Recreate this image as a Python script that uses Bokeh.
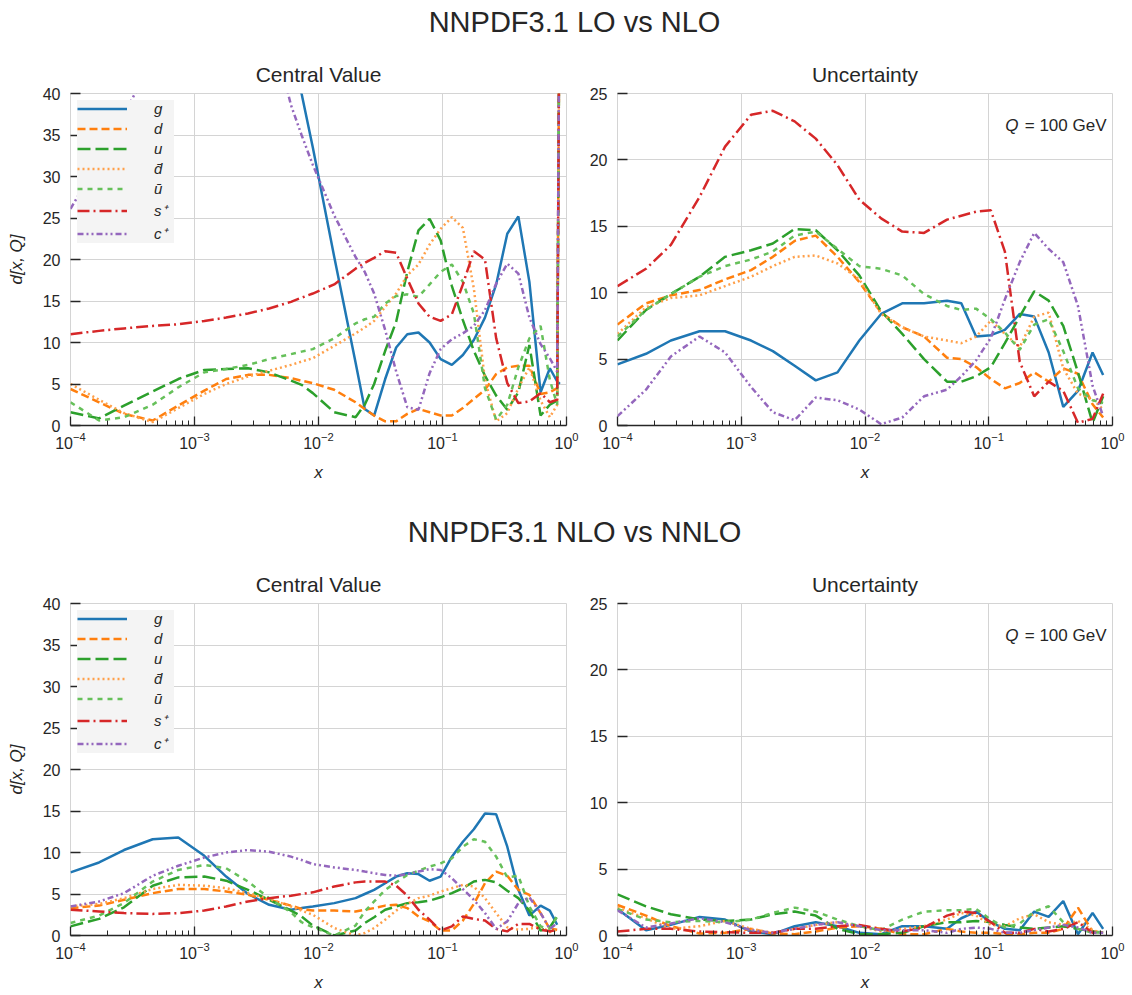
from bokeh.plotting import figure
from bokeh.layouts import column, row
from bokeh.models import Range1d, Legend, LegendItem, Label, FixedTicker
from bokeh.embed import file_html
from bokeh.resources import INLINE

FONT = "Liberation Sans"
TXT = "#262626"
GRID = "#d4d4d4"

# ---------------- data ----------------
series_keys = ["g", "d", "u", "dbar", "ubar", "s", "c"]
series_labels = ["g", "d", "u", "d\u0304", "\u016b", "s\u207a", "c\u207a"]

# LO vs NLO, central value
x_lo_cv = [1e-4, 1.7e-4, 2.7e-4, 4.6e-4, 7.4e-4, 1.2e-3, 1.8e-3, 2.7e-3, 4e-3, 6e-3, 7.3e-3, 9e-3,
           0.0134, 0.0199, 0.0236, 0.0281, 0.0345, 0.0423, 0.052, 0.064, 0.0787, 0.0966, 0.119,
           0.146, 0.179, 0.220, 0.271, 0.333, 0.409, 0.502, 0.618, 0.734, 0.841, 0.883]
g_lo_cv = [95, 90, 85, 80, 76, 72, 68, 63, 60, 46.5, 40, 33.5, 20.3, 7.6, 2.0, 1.2, 5.6, 9.4, 11.0,
           11.2, 10.0, 8.0, 7.3, 8.5, 10.3, 13.0, 17.0, 23.1, 25.2, 17.3, 4.0, 6.9, 5.3, 5.0]
d_lo_cv = [4.4, 2.8, 1.4, 0.6, 2.4, 4.2, 5.6, 6.1, 6.1, 5.7, 5.4, 5.1, 4.3, 2.8, 2.0, 1.2, 0.5, 0.5,
           1.4, 2.0, 1.6, 1.2, 1.2, 2.1, 3.2, 4.3, 6.2, 7.0, 7.2, 7.2, 3.8, 4.0, 4.5, 60]
u_lo_cv = [1.6, 0.85, 2.4, 4.1, 5.6, 6.7, 6.8, 6.9, 6.4, 5.4, 4.9, 3.9, 1.6, 1.0, 2.5, 5.0, 9.0, 12.5,
           18.5, 23.5, 24.9, 22.3, 16.8, 12.7, 9.0, 6.0, 3.6, 1.9, 4.0, 9.7, 1.2, 2.5, 3.0, 60]
dbar_lo_cv = [5.0, 3.1, 1.5, 0.4, 2.1, 3.8, 5.0, 5.9, 6.6, 7.3, 7.7, 8.1, 9.6, 11.1, 11.8, 12.6, 14.3,
              15.9, 18.1, 19.4, 21.8, 23.7, 25.1, 23.8, 16.5, 5.5, 0.5, 1.5, 4.5, 7.0, 3.0, 1.0, 2.5, 60]
ubar_lo_cv = [2.8, 0.6, 1.0, 2.5, 4.6, 6.4, 6.8, 7.3, 8.0, 8.6, 8.9, 9.2, 10.5, 12.3, 12.8, 13.1, 14.7,
              15.6, 15.8, 15.5, 17.0, 18.5, 19.4, 17.3, 13.5, 4.5, 0.7, 2.5, 7.0, 10.5, 12.0, 5.5, 2.5, 60]
s_lo_cv = [11.0, 11.4, 11.7, 12.0, 12.2, 12.6, 13.0, 13.5, 14.1, 14.9, 15.4, 15.9, 17.0, 18.9, 19.6,
           20.2, 21.0, 20.8, 17.7, 14.7, 13.1, 12.6, 13.4, 17.0, 21.0, 20.0, 10.5, 5.1, 2.7, 2.9, 3.9,
           2.8, 3.1, 60]
c_lo_cv = [26.1, 32.0, 37.5, 44, 50, 55, 56, 55, 49, 38.6, 35.0, 31.4, 25.3, 20.3, 18.5, 15.9, 11.5,
           6.5, 2.2, 1.9, 6.3, 9.2, 10.4, 11.1, 12.0, 13.9, 17.1, 19.5, 18.3, 13.0, 9.8, 8.1, 6.5, 60]

# LO vs NLO, uncertainty
x_lo_unc = [1e-4, 1.7e-4, 2.7e-4, 4.6e-4, 7.4e-4, 1.2e-3, 1.8e-3, 2.7e-3, 4e-3, 6e-3, 9e-3, 0.0135,
            0.02, 0.03, 0.046, 0.06, 0.079, 0.104, 0.135, 0.178, 0.233, 0.305, 0.40, 0.526, 0.69, 0.84]
g_lo_unc = [4.6, 5.4, 6.4, 7.1, 7.1, 6.4, 5.6, 4.5, 3.4, 4.0, 6.4, 8.4, 9.2, 9.2, 9.4, 9.2, 6.7, 6.8,
            7.2, 8.4, 8.2, 5.5, 1.4, 2.6, 5.5, 3.8]
d_lo_unc = [7.6, 9.2, 9.8, 10.2, 11.0, 11.7, 12.7, 13.9, 14.3, 12.7, 10.8, 8.5, 7.4, 6.7, 5.1, 5.0, 4.4,
            3.5, 2.8, 3.2, 4.0, 3.3, 4.3, 3.9, 1.6, 0.6]
u_lo_unc = [6.4, 8.7, 9.9, 11.2, 12.7, 13.2, 13.7, 14.8, 14.7, 13.2, 11.3, 8.6, 6.9, 5.0, 3.3, 3.3, 3.7,
            4.4, 6.2, 8.2, 10.1, 9.4, 7.5, 4.0, 0.2, 2.2]
dbar_lo_unc = [6.9, 8.9, 9.6, 9.8, 10.5, 11.2, 12.0, 12.7, 12.8, 12.2, 11.0, 8.4, 7.4, 6.7, 6.4, 6.2,
               6.7, 7.9, 6.9, 5.9, 8.2, 8.5, 4.3, 2.4, 2.0, 1.2]
ubar_lo_unc = [6.7, 8.7, 9.9, 11.2, 12.0, 12.5, 13.1, 14.3, 14.6, 13.3, 12.0, 11.8, 11.3, 9.9, 9.0, 8.7,
               8.8, 8.0, 7.0, 5.7, 7.6, 8.0, 5.6, 2.8, 1.9, 1.7]
s_lo_unc = [10.5, 11.8, 13.6, 17.2, 21.0, 23.4, 23.7, 22.9, 21.6, 19.6, 17.0, 15.6, 14.6, 14.5, 15.5,
            15.8, 16.1, 16.2, 13.1, 4.8, 2.2, 3.3, 2.6, 0.2, 0.5, 2.4]
c_lo_unc = [0.7, 2.7, 5.2, 6.7, 5.5, 2.9, 1.0, 0.4, 2.1, 1.9, 1.2, 0.1, 0.6, 2.2, 2.7, 3.7, 4.9, 6.6,
            9.5, 12.3, 14.5, 13.3, 12.3, 9.0, 3.0, 0.7]

# NLO vs NNLO, central value
x_nlo_cv = [1e-4, 1.7e-4, 2.7e-4, 4.6e-4, 7.4e-4, 1.2e-3, 1.8e-3, 2.7e-3, 4e-3, 6e-3, 7.3e-3, 9e-3,
            0.0134, 0.0199, 0.0236, 0.0281, 0.0345, 0.0423, 0.052, 0.064, 0.0787, 0.0966, 0.119,
            0.146, 0.179, 0.220, 0.271, 0.333, 0.409, 0.502, 0.618, 0.734, 0.841]
g_nlo_cv = [7.6, 8.8, 10.3, 11.6, 11.8, 9.6, 7.1, 5.0, 3.7, 3.1, 3.3, 3.5, 3.9, 4.5, 5.0, 5.5, 6.3, 7.1,
            7.5, 7.4, 6.6, 7.1, 9.5, 11.3, 12.8, 14.7, 14.6, 10.7, 5.5, 2.4, 3.6, 3.0, 1.3]
d_nlo_cv = [3.3, 3.6, 4.3, 5.1, 5.6, 5.6, 5.3, 4.9, 4.3, 3.6, 3.2, 3.0, 3.0, 2.9, 3.1, 3.3, 3.6, 3.7,
            3.3, 2.3, 1.7, 0.6, 0.6, 1.8, 3.8, 6.3, 7.7, 7.2, 5.5, 4.9, 2.7, 0.8, 0.7]
u_nlo_cv = [1.1, 2.0, 3.4, 6.0, 7.0, 7.1, 6.6, 5.5, 4.3, 3.0, 2.3, 1.2, 0.0, 0.6, 1.5, 2.2, 3.1, 3.5,
            3.9, 4.0, 4.2, 4.6, 5.1, 5.7, 6.5, 6.7, 6.4, 5.4, 4.5, 3.0, 0.6, 1.0, 2.3]
dbar_nlo_cv = [3.5, 3.8, 4.5, 5.6, 6.1, 6.0, 5.7, 5.1, 4.4, 3.5, 3.0, 2.5, 0.9, 0.0, 0.3, 0.9, 1.9, 3.0,
               3.8, 4.5, 4.8, 5.3, 5.7, 6.1, 5.9, 4.5, 2.7, 1.0, 0.7, 0.8, 1.1, 0.4, 0.7]
ubar_nlo_cv = [1.5, 2.4, 3.9, 6.5, 7.9, 8.5, 8.1, 6.5, 4.5, 2.8, 1.6, 1.0, 0.0, 1.2, 2.9, 4.1, 5.5, 6.4,
               7.3, 7.8, 8.3, 8.7, 9.3, 10.7, 11.6, 11.3, 9.5, 7.0, 7.2, 3.5, 1.1, 0.8, 2.3]
s_nlo_cv = [3.1, 2.9, 2.7, 2.6, 2.7, 3.0, 3.5, 4.1, 4.5, 4.8, 5.0, 5.2, 5.9, 6.4, 6.5, 6.5, 6.5, 6.0,
            4.8, 3.1, 1.9, 0.6, 1.1, 2.3, 2.0, 1.8, 0.8, 0.5, 1.4, 1.4, 0.7, 0.5, 0.7]
c_nlo_cv = [3.5, 4.1, 5.1, 7.2, 8.4, 9.4, 10.0, 10.3, 10.1, 9.5, 9.1, 8.6, 8.2, 7.9, 7.7, 7.5, 7.3, 7.2,
            7.4, 7.7, 8.0, 7.9, 6.9, 5.6, 4.3, 2.7, 0.8, 1.7, 3.9, 4.6, 2.7, 0.8, 1.5]

# NLO vs NNLO, uncertainty
x_nlo_unc = [1e-4, 1.7e-4, 2.7e-4, 4.6e-4, 7.4e-4, 1.2e-3, 1.8e-3, 2.7e-3, 4e-3, 6e-3, 9e-3, 0.0135,
             0.02, 0.03, 0.046, 0.06, 0.079, 0.104, 0.135, 0.178, 0.233, 0.305, 0.40, 0.526, 0.69, 0.84]
g_nlo_unc = [2.0, 0.4, 0.8, 1.4, 1.2, 0.3, 0.1, 0.7, 1.0, 0.7, 0.2, 0.1, 0.7, 0.7, 0.5, 1.3, 1.8, 1.0,
             0.5, 0.4, 1.8, 1.4, 2.6, 0.1, 1.7, 0.5]
d_nlo_unc = [2.3, 1.5, 0.7, 0.15, 0.2, 0.5, 0.15, 0.1, 0.3, 0.6, 0.7, 0.5, 0.1, 0.1, 0.5, 0.3, 0.2, 0.2,
             0.1, 0.1, 0.2, 0.2, 0.5, 2.1, 0.3, 0.2]
u_nlo_unc = [3.1, 2.2, 1.6, 1.2, 1.1, 1.2, 1.6, 1.8, 1.5, 0.5, 0.1, 0.1, 0.2, 0.7, 1.0, 1.0, 1.1, 1.0,
             0.8, 0.6, 0.5, 0.6, 0.7, 0.5, 0.3, 0.2]
dbar_nlo_unc = [2.1, 1.3, 0.5, 0.7, 1.1, 0.5, 0.2, 0.5, 0.8, 1.0, 0.7, 0.3, 0.5, 0.7, 1.2, 1.7, 1.5, 0.8,
                0.7, 1.3, 1.6, 1.0, 0.8, 1.1, 0.4, 0.2]
ubar_nlo_unc = [2.0, 1.2, 1.0, 1.1, 1.0, 1.2, 1.7, 2.1, 1.8, 1.2, 0.7, 0.4, 1.2, 1.8, 1.9, 1.9, 2.0, 1.2,
                0.6, 0.9, 1.8, 2.2, 1.0, 0.5, 0.2, 0.3]
s_nlo_unc = [0.3, 0.5, 0.5, 0.3, 0.25, 0.2, 0.2, 0.5, 0.5, 0.7, 0.8, 0.5, 0.3, 0.6, 1.5, 1.8, 1.7, 1.0,
             0.2, 0.2, 0.5, 0.3, 0.5, 1.0, 0.2, 0.2]
c_nlo_unc = [1.9, 0.6, 0.9, 1.3, 1.0, 0.4, 0.2, 0.5, 0.8, 1.0, 0.7, 0.4, 0.4, 0.4, 0.2, 0.5, 0.6, 0.5,
             0.2, 0.2, 0.4, 0.6, 0.8, 0.6, 0.2, 0.2]

# ---------------- styles ----------------
STYLE = {
    "g":    dict(color="#1f77b4", dash="solid"),
    "d":    dict(color="#ff7f0e", dash="8 4"),
    "u":    dict(color="#2ca02c", dash="13 5"),
    "dbar": dict(color="#ffa04a", dash="2 3"),
    "ubar": dict(color="#66c05a", dash="5 5"),
    "s":    dict(color="#d62728", dash="12 4 2 4"),
    "c":    dict(color="#9467bd", dash="6 3 2 3 2 3"),
}

MINOR = [m * 10.0 ** e for e in range(-4, 0) for m in range(2, 10)]


def panel(title, xs, ys, ymax, left, top_b, bot_b):
    fw = 496 if left else 495
    p = figure(x_axis_type="log", x_range=Range1d(1e-4, 1.0), y_range=Range1d(0, ymax),
               frame_width=fw, frame_height=332,
               min_border_left=70 if left else 34, min_border_right=17 if left else 20,
               min_border_top=top_b, min_border_bottom=bot_b,
               output_backend="svg", toolbar_location=None, title=title)
    p.title.align = "center"
    p.title.text_font = FONT
    p.title.text_font_size = "21px"
    p.title.text_font_style = "normal"
    p.title.text_color = TXT
    p.title.standoff = 16

    p.outline_line_color = GRID
    p.background_fill_color = "white"
    p.border_fill_color = "white"

    xa = p.xaxis[0]
    xa.ticker = FixedTicker(ticks=[1e-4, 1e-3, 1e-2, 1e-1, 1.0], minor_ticks=MINOR)
    xa.axis_line_color = TXT
    xa.axis_line_width = 1.3
    xa.major_tick_in = 9
    xa.major_tick_out = 0
    xa.minor_tick_in = 5
    xa.minor_tick_out = 0
    xa.major_tick_line_color = TXT
    xa.minor_tick_line_color = TXT
    xa.major_tick_line_width = 1.3
    xa.minor_tick_line_width = 1.0
    xa.major_label_text_font = FONT
    xa.major_label_text_font_size = "16px"
    xa.major_label_text_color = TXT
    xa.major_label_standoff = 6
    xa.axis_label = "x"
    xa.axis_label_text_font = FONT
    xa.axis_label_text_font_size = "17px"
    xa.axis_label_text_font_style = "italic"
    xa.axis_label_text_color = TXT
    xa.axis_label_standoff = 11

    ya = p.yaxis[0]
    ya.ticker = FixedTicker(ticks=list(range(0, ymax + 1, 5)))
    ya.axis_line_color = None
    ya.major_tick_in = 10
    ya.major_tick_out = 0
    ya.major_tick_line_color = TXT
    ya.major_tick_line_width = 1.3
    ya.minor_tick_line_color = None
    ya.major_label_text_font = FONT
    ya.major_label_text_font_size = "16px"
    ya.major_label_text_color = TXT
    ya.major_label_standoff = 10
    if left:
        ya.axis_label = "d[x, Q]"
        ya.axis_label_text_font = FONT
        ya.axis_label_text_font_size = "17px"
        ya.axis_label_text_font_style = "italic"
        ya.axis_label_text_color = TXT
        ya.axis_label_standoff = 14

    p.xgrid.grid_line_color = GRID
    p.ygrid.grid_line_color = GRID
    p.xgrid.grid_line_width = 1
    p.ygrid.grid_line_width = 1

    items = []
    for key, lbl in zip(series_keys, series_labels):
        st = STYLE[key]
        r = p.line(xs, ys[key], line_color=st["color"], line_dash=st["dash"], line_width=2.5)
        items.append(LegendItem(label=lbl, renderers=[r]))

    if left:
        leg = Legend(items=items, location="top_left", margin=7, padding=6, spacing=3,
                     glyph_width=50, glyph_height=17, label_height=17, label_width=20,
                     label_standoff=27, background_fill_color="#f4f4f4", background_fill_alpha=1.0,
                     border_line_color=None, label_text_font=FONT, label_text_font_style="italic",
                     label_text_font_size="15px", label_text_color=TXT)
        p.add_layout(leg)
    else:
        p.add_layout(Label(x=1.0, y=ymax, x_offset=-6, y_offset=-32, text="= 100 GeV",
                           text_align="right", text_baseline="middle", text_font=FONT,
                           text_font_size="17px", text_color=TXT))
        p.add_layout(Label(x=1.0, y=ymax, x_offset=-94, y_offset=-32, text="Q",
                           text_align="right", text_baseline="middle", text_font=FONT,
                           text_font_size="17px", text_font_style="italic", text_color=TXT))
    return p


def suptitle(text, h, ypos):
    p = figure(width=1132, height=h, x_range=Range1d(0, 1132), y_range=Range1d(h, 0),
               min_border=0, output_backend="svg", toolbar_location=None)
    p.axis.visible = False
    p.grid.visible = False
    p.outline_line_color = None
    p.add_layout(Label(x=574, y=ypos, text=text, text_align="center", text_baseline="middle",
                       text_font=FONT, text_font_size="29px", text_color=TXT))
    return p


def pack(prefix):
    return {k: globals()[f"{k}_{prefix}"] for k in series_keys}


t1 = suptitle("NNPDF3.1 LO vs NLO", 48, 21)
p1 = panel("Central Value", x_lo_cv, pack("lo_cv"), 40, True, 45, 63)
p2 = panel("Uncertainty", x_lo_unc, pack("lo_unc"), 25, False, 45, 63)
t2 = suptitle("NNPDF3.1 NLO vs NNLO", 65, 43)
p3 = panel("Central Value", x_nlo_cv, pack("nlo_cv"), 40, True, 50, 60)
p4 = panel("Uncertainty", x_nlo_unc, pack("nlo_unc"), 25, False, 50, 60)

layout = column(t1, row(p1, p2), t2, row(p3, p4))
open("out.html", "w").write(file_html(layout, INLINE))
